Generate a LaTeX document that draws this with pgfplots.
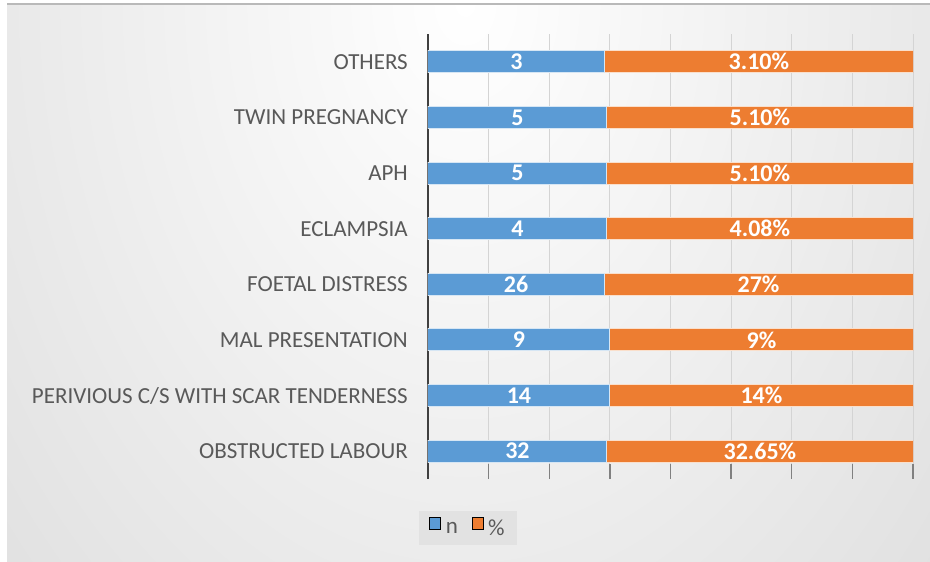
\documentclass[border=0pt]{standalone}
\usepackage{fontspec}
\setmainfont{Carlito}
\usepackage{pgfplots}
\pgfplotsset{compat=1.18}
\usepackage{pgfplotstable}
\definecolor{barblue}{HTML}{5B9BD5}
\definecolor{barorange}{HTML}{ED7D31}
\definecolor{txtgrey}{HTML}{595959}
\definecolor{gridgrey}{HTML}{D4D4D4}
\definecolor{bgouter}{HTML}{C4C4C4}
\definecolor{legbox}{HTML}{E2E2E2}

\pgfplotstableread{
y n p plab
0 32 32.65 32.65\%
1 14 14 14\%
2 9 9 9\%
3 26 27 27\%
4 4 4.08 4.08\%
5 5 5.10 5.10\%
6 5 5.10 5.10\%
7 3 3.10 3.10\%
}\data

\begin{document}
\begin{tikzpicture}[x=1pt,y=1pt]
\path[use as bounding box] (0,0) rectangle (930,562);
\fill[white] (0,0) rectangle (930,562);
\begin{scope}
\clip (7,0) rectangle (930,558);
\shade[inner color=white, outer color=bgouter] (465,560) ellipse (1226 and 1696);
\end{scope}
\draw[gray!55, line width=1.5] (7,558) -- (930,558);
\begin{axis}[
  at={(428pt,83pt)}, anchor=south west,
  scale only axis, width=485pt, height=445pt,
  xmin=20, xmax=100, ymin=-0.5, ymax=7.5,
  xtick={20,30,...,100}, xticklabels={},
  ytick={0,...,7},
  yticklabels={OBSTRUCTED LABOUR, PERIVIOUS C/S WITH SCAR TENDERNESS, MAL PRESENTATION, FOETAL DISTRESS, ECLAMPSIA, APH, TWIN PREGNANCY, OTHERS},
  axis x line*=bottom, axis y line*=left,
  x axis line style={draw=none},
  y axis line style={draw=black!75, line width=2.5pt},
  xmajorgrids, grid style={gridgrey, line width=1pt},
  tick align=inside, major tick length=15pt,
  xtick style={draw=black!50, line width=1.3pt},
  ytick style={draw=none},
  yticklabel style={font=\fontsize{23}{26}\selectfont, text=txtgrey, inner sep=0pt, xshift=-20pt},
  legend image code/.code={\fill[#1] (0pt,-1pt) rectangle (11pt,11pt);},
  legend style={at={(axis description cs:0.0825,-0.11)}, anchor=center,
    legend columns=2, fill=legbox, draw=none,
    font=\fontsize{23}{26}\selectfont, text=txtgrey,
    inner xsep=10pt, inner ysep=6pt,
    /tikz/every odd column/.append style={column sep=3pt},
    /tikz/every even column/.append style={column sep=12pt}},
]
\addlegendimage{fill=barblue}
\addlegendentry{n}
\addlegendimage{fill=barorange}
\addlegendentry{\%}
% 100% stacked: orange fills to 100, blue share n/(n+p) drawn over it
\addplot[xbar, bar width=22pt, bar shift=0pt, fill=barorange, draw=white!75!barorange, line width=1pt, forget plot]
  table[x expr={100*(\thisrow{n}+\thisrow{p})/(\thisrow{n}+\thisrow{p})}, y=y]{\data};
\addplot[xbar, bar width=22pt, bar shift=0pt, fill=barblue, draw=white!75!barblue, line width=1pt, forget plot]
  table[x expr={100*\thisrow{n}/(\thisrow{n}+\thisrow{p})}, y=y]{\data};
% data labels centred in the visible segments
\addplot[draw=none, mark=none, forget plot, nodes near coords, point meta=explicit symbolic,
  nodes near coords style={font=\bfseries\fontsize{24}{27}\selectfont, text=white, anchor=center}]
  table[x expr={(20+100*\thisrow{n}/(\thisrow{n}+\thisrow{p}))/2}, y=y, meta=n]{\data};
\addplot[draw=none, mark=none, forget plot, nodes near coords, point meta=explicit symbolic,
  nodes near coords style={font=\bfseries\fontsize{24}{27}\selectfont, text=white, anchor=center}]
  table[x expr={(100+100*\thisrow{n}/(\thisrow{n}+\thisrow{p}))/2}, y=y, meta=plab]{\data};
\end{axis}
\end{tikzpicture}
\end{document}
